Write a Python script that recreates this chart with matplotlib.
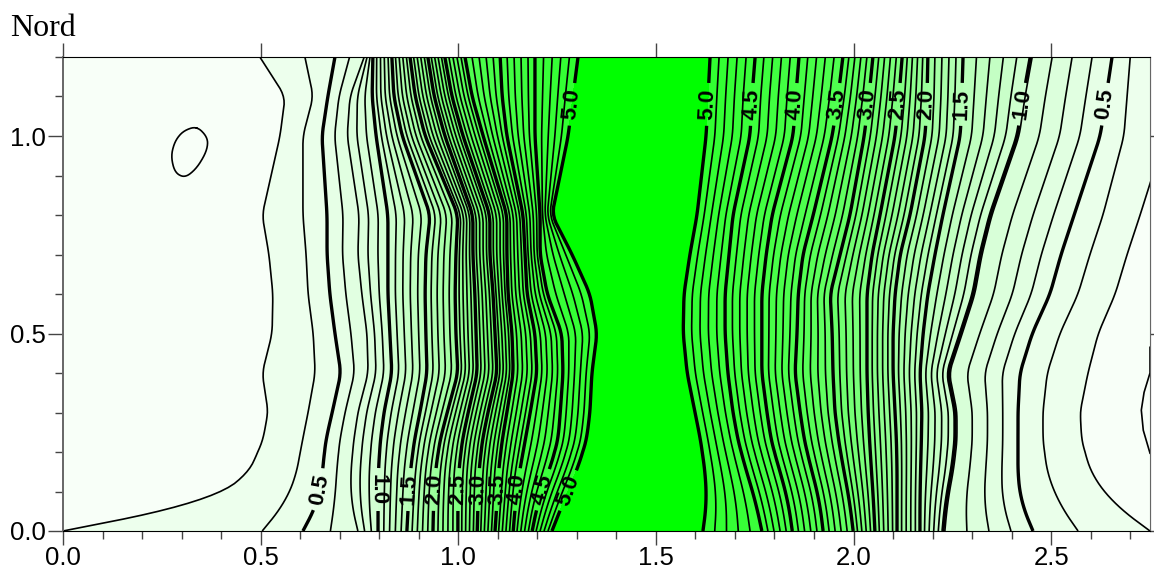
import numpy as np
import matplotlib
matplotlib.use("Agg")
import matplotlib.pyplot as plt
from matplotlib.colors import LinearSegmentedColormap, Normalize
from matplotlib.ticker import MultipleLocator

plt.rcParams['font.family'] = ['Liberation Sans', 'DejaVu Sans']

# rows along the vertical axis
y_rows = [0, 0.05, 0.1, 0.2, 0.3, 0.4, 0.5, 0.6, 0.7, 0.8, 1.0, 1.1, 1.2]

# rising flank: where each contour crosses the row
left_levels = [0.3, 0.4, 0.5, 1.0, 1.5, 2.0, 2.5, 3.0, 3.5, 4.0, 4.5, 5.0]
left_x = [
    [0.000, 0.504, 0.607, 0.797, 0.870, 0.936, 0.999, 1.048, 1.093, 1.139, 1.187, 1.237],
    [0.321, 0.549, 0.638, 0.797, 0.873, 0.936, 0.999, 1.050, 1.098, 1.144, 1.197, 1.258],
    [0.438, 0.582, 0.655, 0.797, 0.875, 0.939, 0.999, 1.050, 1.098, 1.146, 1.207, 1.275],
    [0.501, 0.600, 0.658, 0.799, 0.883, 0.946, 1.004, 1.055, 1.106, 1.164, 1.250, 1.321],
    [0.519, 0.620, 0.681, 0.812, 0.903, 0.972, 1.025, 1.075, 1.123, 1.182, 1.258, 1.333],
    [0.504, 0.638, 0.703, 0.832, 0.921, 0.999, 1.048, 1.098, 1.139, 1.199, 1.265, 1.338],
    [0.529, 0.633, 0.688, 0.827, 0.918, 0.994, 1.045, 1.093, 1.136, 1.194, 1.262, 1.351],
    [0.531, 0.620, 0.675, 0.822, 0.916, 0.992, 1.042, 1.088, 1.126, 1.174, 1.225, 1.333],
    [0.521, 0.615, 0.668, 0.822, 0.918, 0.994, 1.037, 1.080, 1.123, 1.169, 1.207, 1.288],
    [0.504, 0.607, 0.668, 0.822, 0.929, 0.999, 1.037, 1.080, 1.123, 1.164, 1.207, 1.237],
    [0.549, 0.607, 0.655, 0.792, 0.858, 0.916, 0.966, 1.012, 1.063, 1.123, 1.194, 1.278],
    [0.562, 0.633, 0.670, 0.782, 0.837, 0.891, 0.939, 0.984, 1.035, 1.111, 1.194, 1.290],
    [0.498, 0.612, 0.688, 0.784, 0.832, 0.878, 0.923, 0.966, 1.017, 1.106, 1.194, 1.303],
]
left_x_07 = [0.746, 0.731, 0.726, 0.731, 0.746, 0.772, 0.769, 0.756, 0.746, 0.749, 0.719, 0.726, 0.762]

# falling flank
right_levels = [5.0, 4.5, 4.0, 3.5, 3.0, 2.5, 2.0, 1.5, 1.0, 0.5, 0.4, 0.3]
right_x = [
    [1.619, 1.768, 1.845, 1.923, 1.999, 2.054, 2.110, 2.168, 2.226, 2.454, 2.568, 2.750],
    [1.629, 1.758, 1.837, 1.918, 1.994, 2.052, 2.110, 2.168, 2.229, 2.429, 2.530, 2.674],
    [1.629, 1.746, 1.832, 1.910, 1.986, 2.049, 2.110, 2.168, 2.237, 2.416, 2.502, 2.624],
    [1.619, 1.713, 1.796, 1.880, 1.966, 2.042, 2.110, 2.171, 2.257, 2.416, 2.479, 2.578],
    [1.599, 1.695, 1.781, 1.865, 1.953, 2.037, 2.105, 2.173, 2.257, 2.416, 2.479, 2.573],
    [1.579, 1.682, 1.768, 1.852, 1.948, 2.034, 2.100, 2.168, 2.237, 2.421, 2.490, 2.593],
    [1.569, 1.675, 1.768, 1.857, 1.946, 2.034, 2.100, 2.176, 2.270, 2.452, 2.522, 2.619],
    [1.571, 1.675, 1.768, 1.860, 1.941, 2.034, 2.105, 2.188, 2.302, 2.497, 2.568, 2.662],
    [1.586, 1.685, 1.779, 1.872, 1.966, 2.047, 2.118, 2.206, 2.320, 2.525, 2.598, 2.692],
    [1.604, 1.695, 1.794, 1.898, 1.991, 2.067, 2.143, 2.226, 2.345, 2.558, 2.631, 2.725],
    [1.627, 1.738, 1.847, 1.946, 2.027, 2.105, 2.181, 2.270, 2.414, 2.624, 2.684, 2.788],
    [1.632, 1.743, 1.854, 1.961, 2.039, 2.115, 2.186, 2.274, 2.429, 2.639, 2.692, 2.801],
    [1.637, 1.751, 1.862, 1.973, 2.049, 2.123, 2.188, 2.277, 2.447, 2.654, 2.700, 2.813],
]
right_x_09 = [2.231, 2.234, 2.242, 2.262, 2.262, 2.242, 2.275, 2.307, 2.325, 2.350, 2.419, 2.434, 2.452]

# closed 0.2 contours
loop_x = [0.339, 0.367, 0.364, 0.339, 0.309, 0.283, 0.273, 0.283, 0.304]
loop_y = [1.025, 0.995, 0.962, 0.919, 0.894, 0.907, 0.949, 0.987, 1.013]
edge_loop_x = [2.750, 2.750, 2.735, 2.728, 2.733, 2.750]
edge_loop_y = [0.465, 0.400, 0.351, 0.306, 0.255, 0.197]

major_levels = [0.5, 1.0, 1.5, 2.0, 2.5, 3.0, 3.5, 4.0, 4.5, 5.0]
minor_levels = [round(v * 0.1, 1) for v in range(3, 50) if v % 5 != 0]
label_points = [
    (0.650, 0.105), (0.797, 0.105), (0.875, 0.105), (0.944, 0.105), (0.997, 0.105),
    (1.050, 0.105), (1.100, 0.105), (1.150, 0.105), (1.212, 0.105), (1.270, 0.105),
    (1.290, 1.08), (1.632, 1.08), (1.743, 1.08), (1.850, 1.08), (1.960, 1.08),
    (2.040, 1.08), (2.115, 1.08), (2.186, 1.08), (2.274, 1.08), (2.430, 1.08), (2.640, 1.08),
]


def smooth(values, size=5):
    pad = size // 2
    padded = np.pad(values, pad, mode="reflect", reflect_type="odd")
    return np.convolve(padded, np.ones(size) / size, mode="valid")


def smooth_column(values, fine_y):
    # rounder near the bottom edge, keep the kinks at 0.4 and 0.8
    sharp = smooth(values, 5)
    round_ = smooth(values, 15)
    w = np.clip((0.3 - fine_y) / 0.1, 0, 1)
    return w * round_ + (1 - w) * sharp


def build_grid():
    left = np.array(left_x)
    right = np.array(right_x)
    left = np.insert(left, 3, left_x_07, axis=1)
    right = np.insert(right, 9, right_x_09, axis=1)
    left_z = left_levels[:3] + [0.7] + left_levels[3:]
    right_z = right_levels[:9] + [0.9] + right_levels[9:]

    n = len(y_rows)
    xs = np.hstack([np.full((n, 1), -0.1), left, np.full((n, 1), 1.45), right, np.full((n, 1), 3.0)])
    zs = [0.25] + left_z + [5.2] + right_z + [0.25]

    fine_y = np.linspace(0, 1.2, 121)
    fine_x = np.column_stack([smooth_column(np.interp(fine_y, y_rows, xs[:, c]), fine_y) for c in range(xs.shape[1])])
    Y = np.tile(fine_y[:, None], (1, xs.shape[1]))
    Z = np.tile(np.array(zs), (len(fine_y), 1))
    return fine_x, Y, Z


def closed_curve(px, py, n=200):
    t = np.arange(len(px) + 1)
    tt = np.linspace(0, len(px), n, endpoint=False)
    cx = np.interp(tt, t, px + px[:1])
    cy = np.interp(tt, t, py + py[:1])
    kernel = np.ones(21) / 21
    cx = np.convolve(np.r_[cx[-10:], cx, cx[:10]], kernel, mode="valid")
    cy = np.convolve(np.r_[cy[-10:], cy, cy[:10]], kernel, mode="valid")
    return np.r_[cx, cx[0]], np.r_[cy, cy[0]]


X, Y, Z = build_grid()

fig = plt.figure(figsize=(11.54, 5.73), dpi=100)
ax = fig.add_axes([63 / 1154, 42 / 573, 1087 / 1154, 474 / 573])

cmap = LinearSegmentedColormap.from_list("greens", [
    (0.0, "#f8fff8"), (0.1, "#e8ffe8"), (0.2, "#d0ffd0"), (0.3, "#b8ffb8"),
    (0.5, "#80ff80"), (0.7, "#50ff50"), (1.0, "#30ff30"),
])
cmap.set_over("#00ff00")
cmap.set_under("#f8fff8")
fill_levels = sorted(minor_levels + major_levels)
ax.contourf(X, Y, Z, levels=fill_levels, cmap=cmap, norm=Normalize(0, 5), extend="both")
ax.contour(X, Y, Z, levels=minor_levels, colors="black", linewidths=1.2)
thick = ax.contour(X, Y, Z, levels=major_levels, colors="black", linewidths=2.4)

labels = ax.clabel(thick, fmt="%.1f", manual=label_points, inline=True, inline_spacing=6, fontsize=16)
for t in labels:
    t.set_fontweight("bold")
    if t.get_text() == "1.0" and t.get_position()[0] < 1.0:
        t.set_rotation(t.get_rotation() + 180)

ax.plot(*closed_curve(loop_x, loop_y), color="black", lw=1.2)
ax.plot(edge_loop_x, edge_loop_y, color="black", lw=1.2)

ax.set_xlim(0, 2.75)
ax.set_ylim(0, 1.2)
ax.xaxis.set_major_locator(MultipleLocator(0.5))
ax.xaxis.set_minor_locator(MultipleLocator(0.1))
ax.yaxis.set_major_locator(MultipleLocator(0.5))
ax.yaxis.set_minor_locator(MultipleLocator(0.1))
ax.xaxis.set_major_formatter("{x:.1f}")
ax.yaxis.set_major_formatter("{x:.1f}")
ax.tick_params(which="major", length=10, width=1, color="#444444", labelsize=18.5, top=True, pad=1)
ax.tick_params(which="minor", length=5.5, width=1, color="#444444")
ax.tick_params(axis="y", which="major", length=11)

right_axis = ax.secondary_yaxis("right")
right_axis.yaxis.set_major_locator(MultipleLocator(0.5))
right_axis.tick_params(length=3, width=1, color="#444444", labelright=False)
right_axis.spines["right"].set_color("#666666")

for side in ["left", "right"]:
    ax.spines[side].set_color("#666666")
ax.spines["left"].set_linewidth(1.4)

fig.text(10 / 1154, 1 - 36 / 573, "Nord", family="Liberation Serif", fontsize=23, color="black")

fig.savefig("out.png", dpi=100)
